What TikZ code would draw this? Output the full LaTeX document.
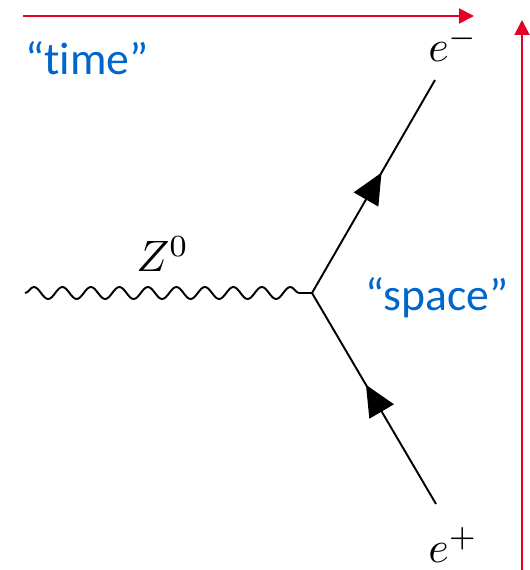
\documentclass[tikz,border=0pt]{standalone}
\usepackage{graphicx}
\usepackage{fontspec}
\newfontfamily\slidefont[Ligatures=NoCommon]{Carlito}
\usetikzlibrary{arrows.meta,decorations.pathmorphing,decorations.markings}
\definecolor{AxisRed}{RGB}{230,0,38}
\definecolor{NoteBlue}{RGB}{0,102,204}
\newcommand{\biglab}[1]{\scalebox{2.5}{$#1$}}
\tikzset{
  axis arrow/.style={-{Triangle[length=0.3cm,width=0.3cm]}, line width=1.15pt, AxisRed},
  fermion/.style={line width=1.1pt, black,
    postaction={decorate},
    decoration={markings, mark=at position 0.565 with {\arrow{Triangle[length=0.62cm,width=0.56cm]}}}},
  boson/.style={line width=1.1pt, black,
    decorate, decoration={snake, segment length=0.57cm, amplitude=0.12cm}},
  note label/.style={font=\slidefont\fontsize{26}{30}\selectfont, text=NoteBlue, inner sep=0pt},
  particle label/.style={inner sep=0pt}
}
\begin{document}
\begin{tikzpicture}[x=0.02cm, y=-0.02cm]
\useasboundingbox (0,0) rectangle (529,570);
% axes
\coordinate (tstart) at (23,16);
\coordinate (tend) at (474,16);
\coordinate (sstart) at (522,570);
\coordinate (send) at (522,20);
\draw[axis arrow] (tstart) -- (tend);
\draw[axis arrow] (sstart) -- (send);
\node[note label, anchor=base west] (time) at (25,75) {“time”};
\node[note label, anchor=base west] (space) at (365,310) {“space”};
% vertex
\coordinate (vtx) at (312,293);
\coordinate (zin) at (25,293);
\coordinate (eout) at (435,80);
\coordinate (pin) at (436,504);
\draw[boson] (zin) -- (vtx);
\draw[fermion] (pin) -- (vtx);
\draw[fermion] (vtx) -- (eout);
\node[particle label, anchor=base west] (zlab) at (136,272) {\biglab{Z^0}};
\node[particle label, anchor=base west] (em) at (428,62) {\biglab{e^-}};
\node[particle label, anchor=base west] (ep) at (428,562) {\biglab{e^+}};
\end{tikzpicture}
\end{document}
